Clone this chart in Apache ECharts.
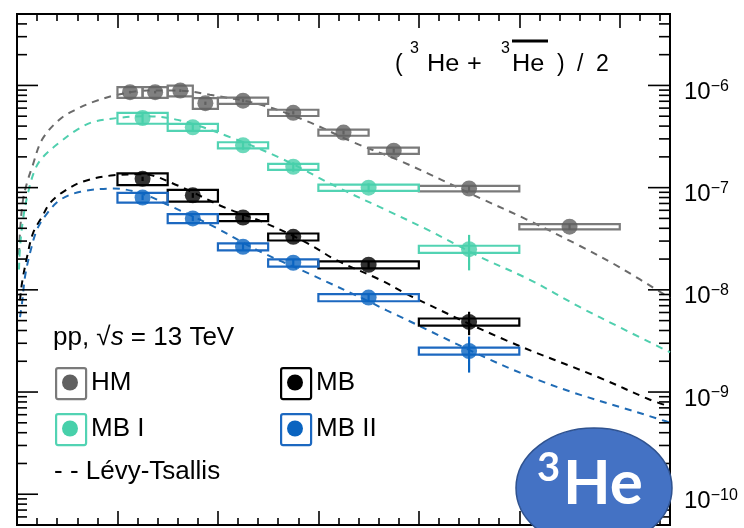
<!DOCTYPE html>
<html><head><meta charset="utf-8">
<script src="https://cdn.jsdelivr.net/npm/echarts@6/dist/echarts.min.js"></script>
<style>html,body{margin:0;padding:0;background:#fff}#c{width:744px;height:528px}</style>
</head><body><div id="c"></div>
<script>
// ---------- data ----------
const hmLo   = [1.0, 1.25, 1.5, 1.75, 2.0, 2.5, 3.0, 3.5, 4.0, 5.0];
const hmHi   = [1.25, 1.5, 1.75, 2.0, 2.5, 3.0, 3.5, 4.0, 5.0, 6.0];
const hmVal  = [8.6e-7, 8.6e-7, 8.9e-7, 6.7e-7, 7.1e-7, 5.4e-7, 3.46e-7, 2.3e-7, 9.8e-8, 4.15e-8];
const hmStat = [2.5e-8, 2.5e-8, 2.7e-8, 2.5e-8, 2.5e-8, 2.0e-8, 1.5e-8, 1.1e-8, 6e-9, 3e-9];
const hmSys  = [1.03e-7, 1.03e-7, 1.07e-7, 8.0e-8, 5.0e-8, 3.8e-8, 2.4e-8, 1.6e-8, 5.9e-9, 2.5e-9];

const mbLo = [1.0, 1.5, 2.0, 2.5, 3.0, 4.0];
const mbHi = [1.5, 2.0, 2.5, 3.0, 4.0, 5.0];

const mb1Val  = [4.8e-7, 3.9e-7, 2.6e-7, 1.6e-7, 1.0e-7, 2.5e-8];
const mb1Stat = [5.0e-8, 3.5e-8, 2.5e-8, 1.7e-8, 1.0e-8, 9.5e-9];
const mb1Sys  = [5.8e-8, 3.1e-8, 1.8e-8, 1.1e-8, 7.0e-9, 2.0e-9];

const mbVal  = [1.22e-7, 8.4e-8, 5.1e-8, 3.3e-8, 1.76e-8, 4.85e-9];
const mbStat = [6e-9, 4.5e-9, 3e-9, 2.2e-9, 1.4e-9, 1.25e-9];
const mbSys  = [1.6e-8, 1.1e-8, 4.0e-9, 2.6e-9, 1.4e-9, 3.9e-10];

const mb2Val  = [8.0e-8, 5.0e-8, 2.64e-8, 1.84e-8, 8.4e-9, 2.52e-9];
const mb2Stat = [4.5e-9, 3e-9, 1.8e-9, 1.4e-9, 8e-10, 9.7e-10];
const mb2Sys  = [8.8e-9, 5.0e-9, 2.1e-9, 1.5e-9, 6.7e-10, 2.0e-10];

// Levy-Tsallis fit curves
const fitHMx = [0.02, 0.03, 0.06, 0.1, 0.15, 0.25, 0.43, 0.6, 0.76, 1.0, 1.3, 1.6, 1.92, 2.42, 2.88, 3.34, 3.84, 4.61, 5.07, 5.6, 6.0, 6.5];
const fitHMy = [2.2e-8, 3.7e-8, 7.6e-8, 1.12e-7, 1.58e-7, 2.95e-7, 4.7e-7, 5.9e-7, 6.9e-7, 8.1e-7, 8.9e-7, 8.9e-7, 8.1e-7, 6.5e-7, 4.5e-7, 2.8e-7, 1.78e-7, 7.9e-8, 4.9e-8, 2.7e-8, 1.66e-8, 8.3e-9];
const fitMB1x = [0.02, 0.03, 0.06, 0.11, 0.18, 0.26, 0.43, 0.6, 0.76, 1.0, 1.25, 1.6, 2.09, 2.62, 3.18, 3.68, 4.08, 4.61, 5.1, 5.6, 6.0, 6.5];
const fitMB1y = [1.58e-8, 2.6e-8, 4.9e-8, 8.9e-8, 1.51e-7, 2.0e-7, 2.8e-7, 3.7e-7, 4.4e-7, 4.8e-7, 5.0e-7, 4.6e-7, 3.2e-7, 1.95e-7, 1.02e-7, 6.0e-8, 3.9e-8, 2.1e-8, 1.26e-8, 6.8e-9, 4.3e-9, 2.45e-9];
const fitMBx = [0.03, 0.05, 0.1, 0.16, 0.25, 0.33, 0.46, 0.66, 0.96, 1.25, 1.6, 2.05, 2.45, 2.88, 3.18, 3.61, 3.94, 4.87, 5.8, 6.29, 6.5];
const fitMBy = [7.9e-9, 1.17e-8, 2.1e-8, 3.6e-8, 5.2e-8, 7.1e-8, 9.1e-8, 1.15e-7, 1.32e-7, 1.35e-7, 1.05e-7, 6.5e-8, 4.6e-8, 2.9e-8, 1.95e-8, 1.26e-8, 8.5e-9, 3.2e-9, 1.38e-9, 8.5e-10, 7.2e-10];
const fitMB2x = [0.03, 0.05, 0.08, 0.13, 0.2, 0.3, 0.43, 0.63, 0.96, 1.25, 1.5, 1.95, 2.39, 2.88, 3.48, 3.68, 5.13, 6.45, 6.5];
const fitMB2y = [5.4e-9, 7.4e-9, 1.35e-8, 2.3e-8, 3.9e-8, 5.6e-8, 7.6e-8, 9.1e-8, 9.8e-8, 8.7e-8, 6.8e-8, 4.2e-8, 2.45e-8, 1.48e-8, 7.9e-9, 6.3e-9, 1.38e-9, 5.2e-10, 5.0e-10];

// axis
const yMin = 5e-11, yMax = 5e-6;
const xMin = 0, xMax = 6.5;

// ---------- styles ----------
const FONT = '"Liberation Sans", Arial, Helvetica, sans-serif';
const C = {
  hm:  {marker: '#606060', box: '#7a7a7a', fit: '#6a6a6a'},
  mb1: {marker: '#47d0aa', box: '#52d3b3', fit: '#4fcfae'},
  mb:  {marker: '#000000', box: '#000000', fit: '#000000'},
  mb2: {marker: '#0a64c0', box: '#1c68c0', fit: '#1f6bb5'}
};

function boxSeries(lo, hi, val, sys, color) {
  return {
    type: 'custom', z: 3, clip: false,
    data: lo.map((l, i) => [l, hi[i], val[i], sys[i]]),
    encode: {x: [0, 1], y: 2},
    renderItem: (params, api) => {
      const a = api.coord([api.value(0), api.value(2) + api.value(3)]);
      const b = api.coord([api.value(1), api.value(2) - api.value(3)]);
      return {type: 'rect', shape: {x: a[0], y: a[1], width: b[0] - a[0], height: b[1] - a[1]},
              style: {fill: 'rgba(0,0,0,0)', stroke: color, lineWidth: 2.2}};
    }
  };
}
function errSeries(lo, hi, val, err, color) {
  return {
    type: 'custom', z: 4, clip: false,
    data: lo.map((l, i) => [(l + hi[i]) / 2, val[i], err[i]]),
    encode: {x: 0, y: 1},
    renderItem: (params, api) => {
      const a = api.coord([api.value(0), api.value(1) + api.value(2)]);
      const b = api.coord([api.value(0), api.value(1) - api.value(2)]);
      return {type: 'line', shape: {x1: a[0], y1: a[1], x2: b[0], y2: b[1]},
              style: {stroke: color, lineWidth: 2.2}};
    }
  };
}
function pointSeries(lo, hi, val, color) {
  return {
    type: 'scatter', z: 5, symbol: 'circle', symbolSize: 16,
    data: lo.map((l, i) => [(l + hi[i]) / 2, val[i]]),
    itemStyle: {color: color}, emphasis: {disabled: true}
  };
}
function fitSeries(xs, ys, color) {
  return {
    type: 'line', z: 2, smooth: 0.35, showSymbol: false, symbol: 'none',
    data: xs.map((x, i) => [x, ys[i]]),
    lineStyle: {color: color, width: 2, type: [7, 6]}, silent: true
  };
}

// y ticks (decades + minor multiples)
const yTicks = [];
for (let e = -11; e <= -6; e++) {
  for (let m = 1; m <= 9; m++) {
    const v = m * Math.pow(10, e);
    if (v >= yMin * 0.999 && v <= yMax * 1.001) yTicks.push([0, v, m === 1 ? 1 : 0]);
  }
}
const yTickSeries = {
  type: 'custom', z: 6, clip: false, silent: true,
  data: yTicks, encode: {x: 0, y: 1},
  renderItem: (params, api) => {
    const major = api.value(2) === 1;
    const l = api.coord([xMin, api.value(1)]);
    const r = api.coord([xMax, api.value(1)]);
    const ll = major ? 21 : 10, rl = major ? 22 : 11;
    return {type: 'group', children: [
      {type: 'line', shape: {x1: l[0], y1: l[1], x2: l[0] + ll, y2: l[1]}, style: {stroke: '#000', lineWidth: 1.6}},
      {type: 'line', shape: {x1: r[0] - rl, y1: r[1], x2: r[0], y2: r[1]}, style: {stroke: '#000', lineWidth: 1.6}}
    ]};
  }
};

const xAxisCommon = {
  type: 'value', min: xMin, max: xMax, interval: 1,
  axisLine: {show: false}, splitLine: {show: false},
  axisLabel: {show: false},
  axisTick: {show: true, inside: true, length: 14, lineStyle: {color: '#000', width: 1.6}},
  minorTick: {show: true, splitNumber: 5, length: 7, lineStyle: {color: '#000', width: 1.6}}
};

const chart = echarts.init(document.getElementById('c'), null, {renderer: 'canvas'});

const legendItems = [
  {x: 55, y: 367, c: C.hm, t: 'HM'},
  {x: 280, y: 367, c: C.mb, t: 'MB'},
  {x: 55, y: 413, c: C.mb1, t: 'MB I'},
  {x: 280, y: 413, c: C.mb2, t: 'MB II'}
];
const graphics = [];
legendItems.forEach(it => {
  graphics.push({type: 'rect', left: it.x, top: it.y, shape: {width: 30, height: 31, r: 2},
    style: {fill: '#fff', stroke: it.c.box, lineWidth: 2.2}, z: 10});
  graphics.push({type: 'circle', shape: {cx: it.x + 15, cy: it.y + 15.5, r: 8}, style: {fill: it.c.marker}, z: 11});
  graphics.push({type: 'text', x: it.x + 36, y: it.y + 16, style: {text: it.t, font: '26px ' + FONT, fill: '#000', verticalAlign: 'middle'}, z: 11});
});
graphics.push({type: 'text', x: 53, y: 338, z: 11, style: {
  text: '{n|pp, √}{i|s}{n| = 13 TeV}', verticalAlign: 'middle',
  rich: {n: {fontSize: 26, fontFamily: FONT, fill: '#000'}, i: {fontSize: 26, fontFamily: FONT, fontStyle: 'italic', fill: '#000'}}
}});
graphics.push({type: 'text', x: 54, y: 472, z: 11, style: {text: '- - Lévy-Tsallis', font: '26px ' + FONT, fill: '#000', verticalAlign: 'middle'}});

// title pieces: [text, x, y, font, scaleX]
const tMain = '23px ' + FONT, tSup = '16px ' + FONT;
[
  ['(', 395, 65, tMain, 1], ['3', 410, 49, tSup, 1], ['He', 427, 65, tMain, 1.1], ['+', 467, 65, tMain, 1.1],
  ['3', 501, 49, tSup, 1], ['He', 512, 65, tMain, 1.1], [')', 557, 65, tMain, 1], ['/', 577, 65, tMain, 1], ['2', 596, 65, tMain, 1]
].forEach(p => graphics.push({type: 'text', x: p[1], y: p[2], scaleX: p[4], z: 11,
  style: {text: p[0], font: p[3], fill: '#000', verticalAlign: 'middle'}}));
graphics.push({type: 'line', shape: {x1: 512, y1: 41, x2: 548, y2: 41}, style: {stroke: '#000', lineWidth: 3}, z: 11});

// badge
graphics.push({type: 'ellipse', shape: {cx: 594, cy: 488, rx: 78, ry: 60},
  style: {fill: '#4472C4', stroke: '#2F528F', lineWidth: 1.5}, z: 20});
graphics.push({type: 'text', x: 537, y: 468, z: 21, style: {text: '3', font: 'bold 40px Lato, "Open Sans", sans-serif', fill: '#fff', verticalAlign: 'middle'}});
graphics.push({type: 'text', x: 563, y: 484, z: 21, style: {text: 'He', font: 'bold 62px Lato, "Open Sans", sans-serif', fill: '#fff', verticalAlign: 'middle'}});

chart.setOption({
  animation: false,
  backgroundColor: '#fff',
  grid: {left: 17, top: 14, right: 74, bottom: 3, show: true, borderColor: '#000', borderWidth: 2, backgroundColor: 'transparent'},
  xAxis: [
    Object.assign({position: 'bottom'}, xAxisCommon),
    Object.assign({position: 'top'}, xAxisCommon)
  ],
  yAxis: [
    {type: 'log', logBase: 10, min: yMin, max: yMax, position: 'left',
     axisLine: {show: false}, axisTick: {show: false}, splitLine: {show: false}, axisLabel: {show: false}},
    {type: 'log', logBase: 10, min: yMin, max: yMax, position: 'right',
     axisLine: {show: false}, axisTick: {show: false}, splitLine: {show: false},
     axisLabel: {show: true, margin: 14, showMinLabel: true, showMaxLabel: true, padding: [12, 0, 0, 0],
       formatter: v => {
         const lg = Math.log10(v), e = Math.round(lg);
         if (Math.abs(lg - e) > 1e-6 || e < -10 || e > -6) return '';
         return '{b|10}{s|\u2212' + (-e) + '}';
       },
       rich: {
         b: {fontSize: 24, fontFamily: FONT, color: '#000', lineHeight: 26, verticalAlign: 'bottom', padding: [10, 0, 0, 0]},
         s: {fontSize: 16, fontFamily: FONT, color: '#000', lineHeight: 26, verticalAlign: 'top'}
       }}}
  ],
  series: [
    fitSeries(fitHMx, fitHMy, C.hm.fit),
    fitSeries(fitMB1x, fitMB1y, C.mb1.fit),
    fitSeries(fitMBx, fitMBy, C.mb.fit),
    fitSeries(fitMB2x, fitMB2y, C.mb2.fit),
    boxSeries(hmLo, hmHi, hmVal, hmSys, C.hm.box),
    boxSeries(mbLo, mbHi, mb1Val, mb1Sys, C.mb1.box),
    boxSeries(mbLo, mbHi, mbVal, mbSys, C.mb.box),
    boxSeries(mbLo, mbHi, mb2Val, mb2Sys, C.mb2.box),
    errSeries(hmLo, hmHi, hmVal, hmStat, C.hm.marker),
    errSeries(mbLo, mbHi, mb1Val, mb1Stat, C.mb1.marker),
    errSeries(mbLo, mbHi, mbVal, mbStat, C.mb.marker),
    errSeries(mbLo, mbHi, mb2Val, mb2Stat, C.mb2.marker),
    pointSeries(hmLo, hmHi, hmVal, C.hm.marker),
    pointSeries(mbLo, mbHi, mb1Val, C.mb1.marker),
    pointSeries(mbLo, mbHi, mbVal, C.mb.marker),
    pointSeries(mbLo, mbHi, mb2Val, C.mb2.marker),
    yTickSeries
  ],
  graphic: graphics
});
</script></body></html>
